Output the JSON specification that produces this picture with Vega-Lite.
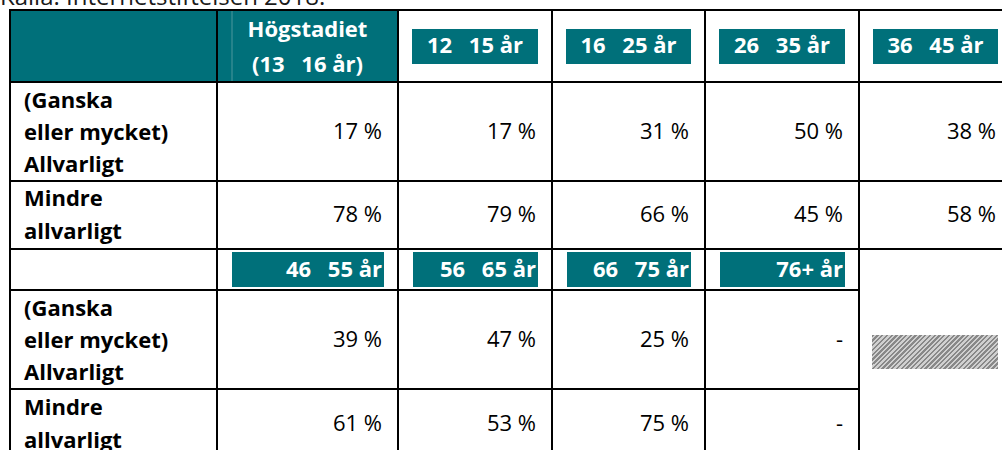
{
  "$schema": "https://vega.github.io/schema/vega-lite/v6.json",
  "width": 1002,
  "height": 450,
  "padding": 0,
  "autosize": {"type": "none"},
  "background": "#ffffff",
  "config": {"view": {"stroke": null}, "font": "Open Sans", "text": {"font": "Open Sans"}},
  "datasets": {
    "cells": [
      {"c0": 0, "c1": 1, "r0": 0, "r1": 1, "kind": "teal"},
      {"c0": 1, "c1": 2, "r0": 0, "r1": 1, "kind": "teal"},
      {"c0": 2, "c1": 3, "r0": 0, "r1": 1, "kind": "white"},
      {"c0": 3, "c1": 4, "r0": 0, "r1": 1, "kind": "white"},
      {"c0": 4, "c1": 5, "r0": 0, "r1": 1, "kind": "white"},
      {"c0": 5, "c1": 6, "r0": 0, "r1": 1, "kind": "white"},
      {"c0": 0, "c1": 1, "r0": 1, "r1": 2, "kind": "white"},
      {"c0": 1, "c1": 2, "r0": 1, "r1": 2, "kind": "white"},
      {"c0": 2, "c1": 3, "r0": 1, "r1": 2, "kind": "white"},
      {"c0": 3, "c1": 4, "r0": 1, "r1": 2, "kind": "white"},
      {"c0": 4, "c1": 5, "r0": 1, "r1": 2, "kind": "white"},
      {"c0": 5, "c1": 6, "r0": 1, "r1": 2, "kind": "white"},
      {"c0": 0, "c1": 1, "r0": 2, "r1": 3, "kind": "white"},
      {"c0": 1, "c1": 2, "r0": 2, "r1": 3, "kind": "white"},
      {"c0": 2, "c1": 3, "r0": 2, "r1": 3, "kind": "white"},
      {"c0": 3, "c1": 4, "r0": 2, "r1": 3, "kind": "white"},
      {"c0": 4, "c1": 5, "r0": 2, "r1": 3, "kind": "white"},
      {"c0": 5, "c1": 6, "r0": 2, "r1": 3, "kind": "white"},
      {"c0": 0, "c1": 1, "r0": 3, "r1": 4, "kind": "white"},
      {"c0": 1, "c1": 2, "r0": 3, "r1": 4, "kind": "white"},
      {"c0": 2, "c1": 3, "r0": 3, "r1": 4, "kind": "white"},
      {"c0": 3, "c1": 4, "r0": 3, "r1": 4, "kind": "white"},
      {"c0": 4, "c1": 5, "r0": 3, "r1": 4, "kind": "white"},
      {"c0": 0, "c1": 1, "r0": 4, "r1": 5, "kind": "white"},
      {"c0": 1, "c1": 2, "r0": 4, "r1": 5, "kind": "white"},
      {"c0": 2, "c1": 3, "r0": 4, "r1": 5, "kind": "white"},
      {"c0": 3, "c1": 4, "r0": 4, "r1": 5, "kind": "white"},
      {"c0": 4, "c1": 5, "r0": 4, "r1": 5, "kind": "white"},
      {"c0": 0, "c1": 1, "r0": 5, "r1": 6, "kind": "white"},
      {"c0": 1, "c1": 2, "r0": 5, "r1": 6, "kind": "white"},
      {"c0": 2, "c1": 3, "r0": 5, "r1": 6, "kind": "white"},
      {"c0": 3, "c1": 4, "r0": 5, "r1": 6, "kind": "white"},
      {"c0": 4, "c1": 5, "r0": 5, "r1": 6, "kind": "white"},
      {"c0": 5, "c1": 6, "r0": 3, "r1": 6, "kind": "white"}
    ],
    "heads": [
      {"band": "h1", "row": 0, "col": 1, "next": 2, "label": "Högstadiet\n(13\u2002\u00a016 år)"},
      {"band": "h1", "row": 0, "col": 2, "next": 3, "label": "12\u2002\u00a015 år"},
      {"band": "h1", "row": 0, "col": 3, "next": 4, "label": "16\u2002\u00a025 år"},
      {"band": "h1", "row": 0, "col": 4, "next": 5, "label": "26\u2002\u00a035 år"},
      {"band": "h1", "row": 0, "col": 5, "next": 6, "label": "36\u2002\u00a045 år"},
      {"band": "h2", "row": 3, "col": 1, "next": 2, "label": "46\u2002\u00a055 år"},
      {"band": "h2", "row": 3, "col": 2, "next": 3, "label": "56\u2002\u00a065 år"},
      {"band": "h2", "row": 3, "col": 3, "next": 4, "label": "66\u2002\u00a075 år"},
      {"band": "h2", "row": 3, "col": 4, "next": 5, "label": "76+ år"}
    ],
    "rowlabels": [
      {"row": 1, "label": "(Ganska\neller mycket)\nAllvarligt"},
      {"row": 2, "label": "Mindre\nallvarligt"},
      {"row": 4, "label": "(Ganska\neller mycket)\nAllvarligt"},
      {"row": 5, "label": "Mindre\nallvarligt"}
    ],
    "values": [
      {"row": 1, "col": 1, "value": "17 %"},
      {"row": 1, "col": 2, "value": "17 %"},
      {"row": 1, "col": 3, "value": "31 %"},
      {"row": 1, "col": 4, "value": "50 %"},
      {"row": 1, "col": 5, "value": "38 %"},
      {"row": 2, "col": 1, "value": "78 %"},
      {"row": 2, "col": 2, "value": "79 %"},
      {"row": 2, "col": 3, "value": "66 %"},
      {"row": 2, "col": 4, "value": "45 %"},
      {"row": 2, "col": 5, "value": "58 %"},
      {"row": 4, "col": 1, "value": "39 %"},
      {"row": 4, "col": 2, "value": "47 %"},
      {"row": 4, "col": 3, "value": "25 %"},
      {"row": 4, "col": 4, "value": "-"},
      {"row": 5, "col": 1, "value": "61 %"},
      {"row": 5, "col": 2, "value": "53 %"},
      {"row": 5, "col": 3, "value": "75 %"},
      {"row": 5, "col": 4, "value": "-"}
    ],
    "nodata": [{"c0": 5, "c1": 6, "r0": 4, "r1": 5}],
    "caption": [{"text": "Källa: Internetstiftelsen 2018."}]
  },
  "resolve": {"scale": {"x": "independent", "y": "independent", "fill": "independent"}},
  "layer": [
    {
      "data": {"name": "cells"},
      "mark": {"type": "rect", "stroke": "#000000", "strokeWidth": 2},
      "encoding": {
        "x": {"field": "c0", "type": "quantitative", "axis": null, "scale": {"type": "linear", "domain": [0, 1, 2, 3, 4, 5, 6], "range": [10, 217, 398, 552, 705, 859, 1012], "zero": false, "nice": false}},
        "x2": {"field": "c1"},
        "y": {"field": "r0", "type": "quantitative", "axis": null, "scale": {"type": "linear", "domain": [0, 1, 2, 3, 4, 5, 6], "range": [10, 82, 181, 249, 290, 389, 458], "zero": false, "nice": false}},
        "y2": {"field": "r1"},
        "fill": {"field": "kind", "type": "nominal", "legend": null, "scale": {"domain": ["teal", "white"], "range": ["#00707a", "#ffffff"]}}
      }
    },
    {
      "data": {"name": "nodata"},
      "mark": {
        "type": "rect", "xOffset": 13, "x2Offset": -14, "yOffset": 45, "y2Offset": -20,
        "fill": {"gradient": "linear", "x1": 0, "y1": 0, "x2": 1.2, "y2": 0.324, "stops": [
          {"offset": 0, "color": "#888888"}, {"offset": 0.0147, "color": "#888888"}, {"offset": 0.0147, "color": "#d0d0d0"}, {"offset": 0.0294, "color": "#d0d0d0"},
          {"offset": 0.0294, "color": "#888888"}, {"offset": 0.0441, "color": "#888888"}, {"offset": 0.0441, "color": "#d0d0d0"}, {"offset": 0.0588, "color": "#d0d0d0"},
          {"offset": 0.0588, "color": "#888888"}, {"offset": 0.0735, "color": "#888888"}, {"offset": 0.0735, "color": "#d0d0d0"}, {"offset": 0.0882, "color": "#d0d0d0"},
          {"offset": 0.0882, "color": "#888888"}, {"offset": 0.1029, "color": "#888888"}, {"offset": 0.1029, "color": "#d0d0d0"}, {"offset": 0.1176, "color": "#d0d0d0"},
          {"offset": 0.1176, "color": "#888888"}, {"offset": 0.1324, "color": "#888888"}, {"offset": 0.1324, "color": "#d0d0d0"}, {"offset": 0.1471, "color": "#d0d0d0"},
          {"offset": 0.1471, "color": "#888888"}, {"offset": 0.1618, "color": "#888888"}, {"offset": 0.1618, "color": "#d0d0d0"}, {"offset": 0.1765, "color": "#d0d0d0"},
          {"offset": 0.1765, "color": "#888888"}, {"offset": 0.1912, "color": "#888888"}, {"offset": 0.1912, "color": "#d0d0d0"}, {"offset": 0.2059, "color": "#d0d0d0"},
          {"offset": 0.2059, "color": "#888888"}, {"offset": 0.2206, "color": "#888888"}, {"offset": 0.2206, "color": "#d0d0d0"}, {"offset": 0.2353, "color": "#d0d0d0"},
          {"offset": 0.2353, "color": "#888888"}, {"offset": 0.25, "color": "#888888"}, {"offset": 0.25, "color": "#d0d0d0"}, {"offset": 0.2647, "color": "#d0d0d0"},
          {"offset": 0.2647, "color": "#888888"}, {"offset": 0.2794, "color": "#888888"}, {"offset": 0.2794, "color": "#d0d0d0"}, {"offset": 0.2941, "color": "#d0d0d0"},
          {"offset": 0.2941, "color": "#888888"}, {"offset": 0.3088, "color": "#888888"}, {"offset": 0.3088, "color": "#d0d0d0"}, {"offset": 0.3235, "color": "#d0d0d0"},
          {"offset": 0.3235, "color": "#888888"}, {"offset": 0.3382, "color": "#888888"}, {"offset": 0.3382, "color": "#d0d0d0"}, {"offset": 0.3529, "color": "#d0d0d0"},
          {"offset": 0.3529, "color": "#888888"}, {"offset": 0.3676, "color": "#888888"}, {"offset": 0.3676, "color": "#d0d0d0"}, {"offset": 0.3824, "color": "#d0d0d0"},
          {"offset": 0.3824, "color": "#888888"}, {"offset": 0.3971, "color": "#888888"}, {"offset": 0.3971, "color": "#d0d0d0"}, {"offset": 0.4118, "color": "#d0d0d0"},
          {"offset": 0.4118, "color": "#888888"}, {"offset": 0.4265, "color": "#888888"}, {"offset": 0.4265, "color": "#d0d0d0"}, {"offset": 0.4412, "color": "#d0d0d0"},
          {"offset": 0.4412, "color": "#888888"}, {"offset": 0.4559, "color": "#888888"}, {"offset": 0.4559, "color": "#d0d0d0"}, {"offset": 0.4706, "color": "#d0d0d0"},
          {"offset": 0.4706, "color": "#888888"}, {"offset": 0.4853, "color": "#888888"}, {"offset": 0.4853, "color": "#d0d0d0"}, {"offset": 0.5, "color": "#d0d0d0"},
          {"offset": 0.5, "color": "#888888"}, {"offset": 0.5147, "color": "#888888"}, {"offset": 0.5147, "color": "#d0d0d0"}, {"offset": 0.5294, "color": "#d0d0d0"},
          {"offset": 0.5294, "color": "#888888"}, {"offset": 0.5441, "color": "#888888"}, {"offset": 0.5441, "color": "#d0d0d0"}, {"offset": 0.5588, "color": "#d0d0d0"},
          {"offset": 0.5588, "color": "#888888"}, {"offset": 0.5735, "color": "#888888"}, {"offset": 0.5735, "color": "#d0d0d0"}, {"offset": 0.5882, "color": "#d0d0d0"},
          {"offset": 0.5882, "color": "#888888"}, {"offset": 0.6029, "color": "#888888"}, {"offset": 0.6029, "color": "#d0d0d0"}, {"offset": 0.6176, "color": "#d0d0d0"},
          {"offset": 0.6176, "color": "#888888"}, {"offset": 0.6324, "color": "#888888"}, {"offset": 0.6324, "color": "#d0d0d0"}, {"offset": 0.6471, "color": "#d0d0d0"},
          {"offset": 0.6471, "color": "#888888"}, {"offset": 0.6618, "color": "#888888"}, {"offset": 0.6618, "color": "#d0d0d0"}, {"offset": 0.6765, "color": "#d0d0d0"},
          {"offset": 0.6765, "color": "#888888"}, {"offset": 0.6912, "color": "#888888"}, {"offset": 0.6912, "color": "#d0d0d0"}, {"offset": 0.7059, "color": "#d0d0d0"},
          {"offset": 0.7059, "color": "#888888"}, {"offset": 0.7206, "color": "#888888"}, {"offset": 0.7206, "color": "#d0d0d0"}, {"offset": 0.7353, "color": "#d0d0d0"},
          {"offset": 0.7353, "color": "#888888"}, {"offset": 0.75, "color": "#888888"}, {"offset": 0.75, "color": "#d0d0d0"}, {"offset": 0.7647, "color": "#d0d0d0"},
          {"offset": 0.7647, "color": "#888888"}, {"offset": 0.7794, "color": "#888888"}, {"offset": 0.7794, "color": "#d0d0d0"}, {"offset": 0.7941, "color": "#d0d0d0"},
          {"offset": 0.7941, "color": "#888888"}, {"offset": 0.8088, "color": "#888888"}, {"offset": 0.8088, "color": "#d0d0d0"}, {"offset": 0.8235, "color": "#d0d0d0"},
          {"offset": 0.8235, "color": "#888888"}, {"offset": 0.8382, "color": "#888888"}, {"offset": 0.8382, "color": "#d0d0d0"}, {"offset": 0.8529, "color": "#d0d0d0"},
          {"offset": 0.8529, "color": "#888888"}, {"offset": 0.8676, "color": "#888888"}, {"offset": 0.8676, "color": "#d0d0d0"}, {"offset": 0.8824, "color": "#d0d0d0"},
          {"offset": 0.8824, "color": "#888888"}, {"offset": 0.8971, "color": "#888888"}, {"offset": 0.8971, "color": "#d0d0d0"}, {"offset": 0.9118, "color": "#d0d0d0"},
          {"offset": 0.9118, "color": "#888888"}, {"offset": 0.9265, "color": "#888888"}, {"offset": 0.9265, "color": "#d0d0d0"}, {"offset": 0.9412, "color": "#d0d0d0"},
          {"offset": 0.9412, "color": "#888888"}, {"offset": 0.9559, "color": "#888888"}, {"offset": 0.9559, "color": "#d0d0d0"}, {"offset": 0.9706, "color": "#d0d0d0"},
          {"offset": 0.9706, "color": "#888888"}, {"offset": 0.9853, "color": "#888888"}, {"offset": 0.9853, "color": "#d0d0d0"}, {"offset": 1, "color": "#d0d0d0"}
        ]}
      },
      "encoding": {
        "x": {"field": "c0", "type": "quantitative", "axis": null, "scale": {"type": "linear", "domain": [0, 1, 2, 3, 4, 5, 6], "range": [10, 217, 398, 552, 705, 859, 1012], "zero": false, "nice": false}},
        "x2": {"field": "c1"},
        "y": {"field": "r0", "type": "quantitative", "axis": null, "scale": {"type": "linear", "domain": [0, 1, 2, 3, 4, 5, 6], "range": [10, 82, 181, 249, 290, 389, 458], "zero": false, "nice": false}},
        "y2": {"field": "r1"}
      }
    },
    {
      "data": {"name": "heads"},
      "transform": [{"filter": "datum.band == 'h1' && datum.col > 1"}],
      "mark": {"type": "rect", "fill": "#00707a", "xOffset": 14, "x2Offset": -14, "yOffset": 19, "y2Offset": -18},
      "encoding": {
        "x": {"field": "col", "type": "quantitative", "axis": null, "scale": {"type": "linear", "domain": [0, 1, 2, 3, 4, 5, 6], "range": [10, 217, 398, 552, 705, 859, 1012], "zero": false, "nice": false}},
        "x2": {"field": "next"},
        "y": {"datum": 0, "type": "quantitative", "axis": null, "scale": {"type": "linear", "domain": [0, 1, 2, 3, 4, 5, 6], "range": [10, 82, 181, 249, 290, 389, 458], "zero": false, "nice": false}},
        "y2": {"datum": 1}
      }
    },
    {
      "data": {"name": "heads"},
      "transform": [{"filter": "datum.band == 'h2'"}],
      "mark": {"type": "rect", "fill": "#00707a", "xOffset": 15, "x2Offset": -14, "yOffset": 3, "y2Offset": -3},
      "encoding": {
        "x": {"field": "col", "type": "quantitative", "axis": null, "scale": {"type": "linear", "domain": [0, 1, 2, 3, 4, 5, 6], "range": [10, 217, 398, 552, 705, 859, 1012], "zero": false, "nice": false}},
        "x2": {"field": "next"},
        "y": {"datum": 3, "type": "quantitative", "axis": null, "scale": {"type": "linear", "domain": [0, 1, 2, 3, 4, 5, 6], "range": [10, 82, 181, 249, 290, 389, 458], "zero": false, "nice": false}},
        "y2": {"datum": 4}
      }
    },
    {
      "data": {"name": "heads"},
      "transform": [{"filter": "datum.band == 'h1' && datum.col == 1"}],
      "mark": {"type": "rule", "stroke": "#4d979d", "strokeWidth": 1, "xOffset": 15, "yOffset": 1, "y2Offset": -1},
      "encoding": {
        "x": {"field": "col", "type": "quantitative", "axis": null, "scale": {"type": "linear", "domain": [0, 1, 2, 3, 4, 5, 6], "range": [10, 217, 398, 552, 705, 859, 1012], "zero": false, "nice": false}},
        "y": {"datum": 0, "type": "quantitative", "axis": null, "scale": {"type": "linear", "domain": [0, 1, 2, 3, 4, 5, 6], "range": [10, 82, 181, 249, 290, 389, 458], "zero": false, "nice": false}},
        "y2": {"datum": 1}
      }
    },
    {
      "data": {"name": "heads"},
      "transform": [{"filter": "datum.band == 'h1' && datum.col == 1"}],
      "mark": {"type": "text", "align": "center", "baseline": "middle", "dy": -17.5, "fontWeight": "bold", "fontSize": 22, "lineHeight": 35, "lineBreak": "\n", "fill": "#ffffff"},
      "encoding": {
        "x": {"field": "col", "type": "quantitative", "axis": null, "scale": {"type": "linear", "domain": [1, 2, 3, 4, 5], "range": [307.5, 475, 628.5, 782, 935.5], "zero": false, "nice": false}},
        "y": {"field": "row", "type": "quantitative", "axis": null, "scale": {"type": "linear", "domain": [0, 1, 2, 3, 4, 5], "range": [47, 131.5, 215, 269.5, 339.5, 423.5], "zero": false, "nice": false}},
        "text": {"field": "label"}
      }
    },
    {
      "data": {"name": "heads"},
      "transform": [{"filter": "datum.band == 'h1' && datum.col > 1"}],
      "mark": {"type": "text", "align": "center", "baseline": "middle", "fontWeight": "bold", "fontSize": 22, "fill": "#ffffff"},
      "encoding": {
        "x": {"field": "col", "type": "quantitative", "axis": null, "scale": {"type": "linear", "domain": [1, 2, 3, 4, 5], "range": [307.5, 475, 628.5, 782, 935.5], "zero": false, "nice": false}},
        "y": {"field": "row", "type": "quantitative", "axis": null, "scale": {"type": "linear", "domain": [0, 1, 2, 3, 4, 5], "range": [46, 131.5, 215, 269.5, 339.5, 423.5], "zero": false, "nice": false}},
        "text": {"field": "label"}
      }
    },
    {
      "data": {"name": "heads"},
      "transform": [{"filter": "datum.band == 'h2'"}],
      "mark": {"type": "text", "align": "right", "baseline": "middle", "dx": -16, "fontWeight": "bold", "fontSize": 22, "fill": "#ffffff"},
      "encoding": {
        "x": {"field": "col", "type": "quantitative", "axis": null, "scale": {"type": "linear", "domain": [1, 2, 3, 4, 5], "range": [398, 552, 705, 859, 1012], "zero": false, "nice": false}},
        "y": {"field": "row", "type": "quantitative", "axis": null, "scale": {"type": "linear", "domain": [0, 1, 2, 3, 4, 5], "range": [46, 131.5, 215, 269.5, 339.5, 423.5], "zero": false, "nice": false}},
        "text": {"field": "label"}
      }
    },
    {
      "data": {"name": "rowlabels"},
      "transform": [{"filter": "datum.row == 1 || datum.row == 4"}],
      "mark": {"type": "text", "align": "left", "baseline": "middle", "dx": 14, "dy": -31, "fontWeight": "bold", "fontSize": 22, "lineHeight": 32, "lineBreak": "\n", "fill": "#000000"},
      "encoding": {
        "x": {"datum": 0, "type": "quantitative", "axis": null, "scale": {"type": "linear", "domain": [0, 1, 2, 3, 4, 5, 6], "range": [10, 217, 398, 552, 705, 859, 1012], "zero": false, "nice": false}},
        "y": {"field": "row", "type": "quantitative", "axis": null, "scale": {"type": "linear", "domain": [0, 1, 2, 3, 4, 5], "range": [46, 131.5, 215, 269.5, 339.5, 423.5], "zero": false, "nice": false}},
        "text": {"field": "label"}
      }
    },
    {
      "data": {"name": "rowlabels"},
      "transform": [{"filter": "datum.row == 2 || datum.row == 5"}],
      "mark": {"type": "text", "align": "left", "baseline": "middle", "dx": 14, "dy": -16, "fontWeight": "bold", "fontSize": 22, "lineHeight": 33, "lineBreak": "\n", "fill": "#000000"},
      "encoding": {
        "x": {"datum": 0, "type": "quantitative", "axis": null, "scale": {"type": "linear", "domain": [0, 1, 2, 3, 4, 5, 6], "range": [10, 217, 398, 552, 705, 859, 1012], "zero": false, "nice": false}},
        "y": {"field": "row", "type": "quantitative", "axis": null, "scale": {"type": "linear", "domain": [0, 1, 2, 3, 4, 5], "range": [46, 131.5, 215, 269.5, 339.5, 423.5], "zero": false, "nice": false}},
        "text": {"field": "label"}
      }
    },
    {
      "data": {"name": "values"},
      "mark": {"type": "text", "align": "right", "baseline": "middle", "dx": -16, "fontSize": 22, "fill": "#000000"},
      "encoding": {
        "x": {"field": "col", "type": "quantitative", "axis": null, "scale": {"type": "linear", "domain": [1, 2, 3, 4, 5], "range": [398, 552, 705, 859, 1012], "zero": false, "nice": false}},
        "y": {"field": "row", "type": "quantitative", "axis": null, "scale": {"type": "linear", "domain": [0, 1, 2, 3, 4, 5], "range": [46, 131.5, 215, 269.5, 339.5, 423.5], "zero": false, "nice": false}},
        "text": {"field": "value"}
      }
    },
    {
      "data": {"name": "caption"},
      "mark": {"type": "text", "align": "left", "baseline": "alphabetic", "dx": -10, "dy": -5, "fontSize": 24, "fill": "#1a1a1a"},
      "encoding": {
        "x": {"datum": 0, "type": "quantitative", "axis": null, "scale": {"type": "linear", "domain": [0, 1, 2, 3, 4, 5, 6], "range": [10, 217, 398, 552, 705, 859, 1012], "zero": false, "nice": false}},
        "y": {"datum": 0, "type": "quantitative", "axis": null, "scale": {"type": "linear", "domain": [0, 1, 2, 3, 4, 5, 6], "range": [10, 82, 181, 249, 290, 389, 458], "zero": false, "nice": false}},
        "text": {"field": "text"}
      }
    }
  ]
}
